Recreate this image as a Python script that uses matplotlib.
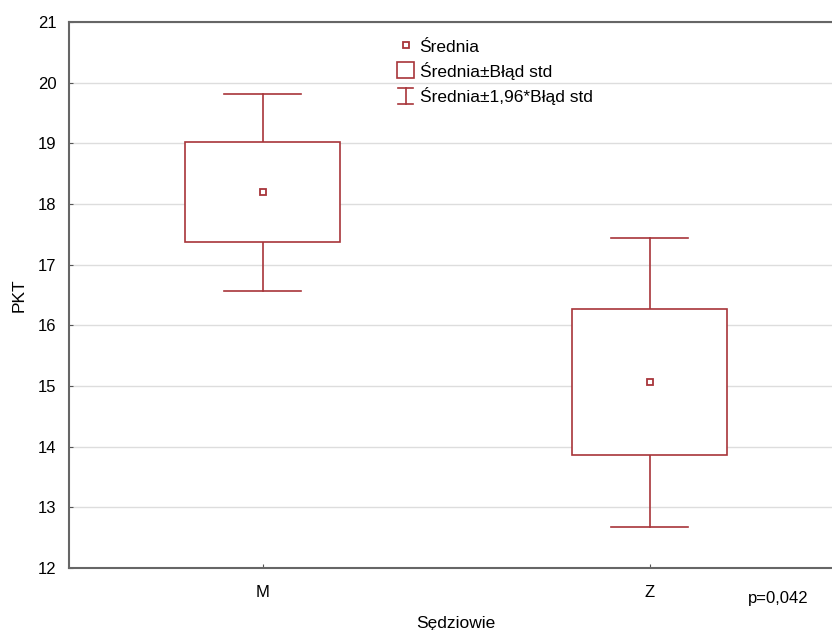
import matplotlib.pyplot as plt
from matplotlib.patches import Rectangle
from matplotlib.lines import Line2D
from matplotlib.legend_handler import HandlerBase

plt.rcParams['font.family'] = ['Liberation Sans', 'DejaVu Sans']

groups = ['M', 'Z']
means = [18.19, 15.07]
se_low = [17.37, 13.86]
se_high = [19.02, 16.27]
ci_low = [16.57, 12.68]
ci_high = [19.82, 17.44]

color = '#a8353a'


class IBeamHandler(HandlerBase):
    def create_artists(self, legend, orig_handle, xdescent, ydescent, width, height, fontsize, trans):
        cx = width / 2 - xdescent
        h = height * 1.05
        y0 = -ydescent - (h - height) / 2
        w = width * 0.9
        lines = [
            Line2D([cx, cx], [y0, y0 + h], color=color, lw=1.2, transform=trans),
            Line2D([cx - w / 2, cx + w / 2], [y0, y0], color=color, lw=1.2, transform=trans),
            Line2D([cx - w / 2, cx + w / 2], [y0 + h, y0 + h], color=color, lw=1.2, transform=trans),
        ]
        return lines


class BoxHandler(HandlerBase):
    def create_artists(self, legend, orig_handle, xdescent, ydescent, width, height, fontsize, trans):
        r = Rectangle((-xdescent, -ydescent), width, height * 1.05, fc='white', ec=color,
                      lw=1.2, transform=trans)
        return [r]


fig = plt.figure(figsize=(8.32, 6.3), dpi=100)
ax = fig.add_axes([69 / 832, 1 - 568 / 630, 774 / 832, 546 / 630])

box_w = 0.4
cap_w = 0.2
for i in range(len(groups)):
    ax.plot([i, i], [ci_low[i], se_low[i]], color=color, lw=1.2, zorder=3)
    ax.plot([i, i], [se_high[i], ci_high[i]], color=color, lw=1.2, zorder=3)
    ax.plot([i - cap_w / 2, i + cap_w / 2], [ci_low[i]] * 2, color=color, lw=1.2, zorder=3)
    ax.plot([i - cap_w / 2, i + cap_w / 2], [ci_high[i]] * 2, color=color, lw=1.2, zorder=3)
    ax.add_patch(Rectangle((i - box_w / 2, se_low[i]), box_w, se_high[i] - se_low[i],
                           fc='white', ec=color, lw=1.2, zorder=3))
ax.plot(range(len(groups)), means, ls='none', marker='s', ms=5, mfc='white',
        mec=color, mew=1.3, zorder=4)

ax.set_xlim(-0.5, 1.5)
ax.set_ylim(12, 21)
ax.set_xticks(range(len(groups)))
ax.set_xticklabels(groups)
ax.set_yticks(range(12, 22))
ax.tick_params(direction='in', length=3, color='#555555', labelsize=12)
ax.tick_params(axis='x', pad=12)
ax.tick_params(axis='y', pad=9)
ax.grid(axis='y', color='#dddddd', lw=1)
ax.set_axisbelow(True)
for s in ['left', 'bottom', 'top']:
    ax.spines[s].set_color('#666666')
    ax.spines[s].set_linewidth(1.5)
ax.spines['right'].set_visible(False)

ax.set_xlabel('Sędziowie', fontsize=12.5, labelpad=12)
ax.set_ylabel('PKT', fontsize=12.5, labelpad=8)

handles = [
    Line2D([], [], ls='none', marker='s', ms=5, mfc='white', mec=color, mew=1.3),
    Rectangle((0, 0), 1, 1),
    Line2D([], []),
]
labels = ['Średnia', 'Średnia±Błąd std', 'Średnia±1,96*Błąd std']
ax.legend(handles, labels, loc='upper left', bbox_to_anchor=(397 / 832, 1 - 38 / 630),
          bbox_transform=fig.transFigure, frameon=False, fontsize=12.5,
          handlelength=1.0, handleheight=1.0, handletextpad=0.3, labelspacing=0.4,
          borderpad=0, borderaxespad=0,
          handler_map={handles[1]: BoxHandler(), handles[2]: IBeamHandler()})

fig.text(748 / 832, 1 - 598 / 630, 'p=0,042', fontsize=12, va='center', ha='left')

fig.savefig('out.png', dpi=100)
